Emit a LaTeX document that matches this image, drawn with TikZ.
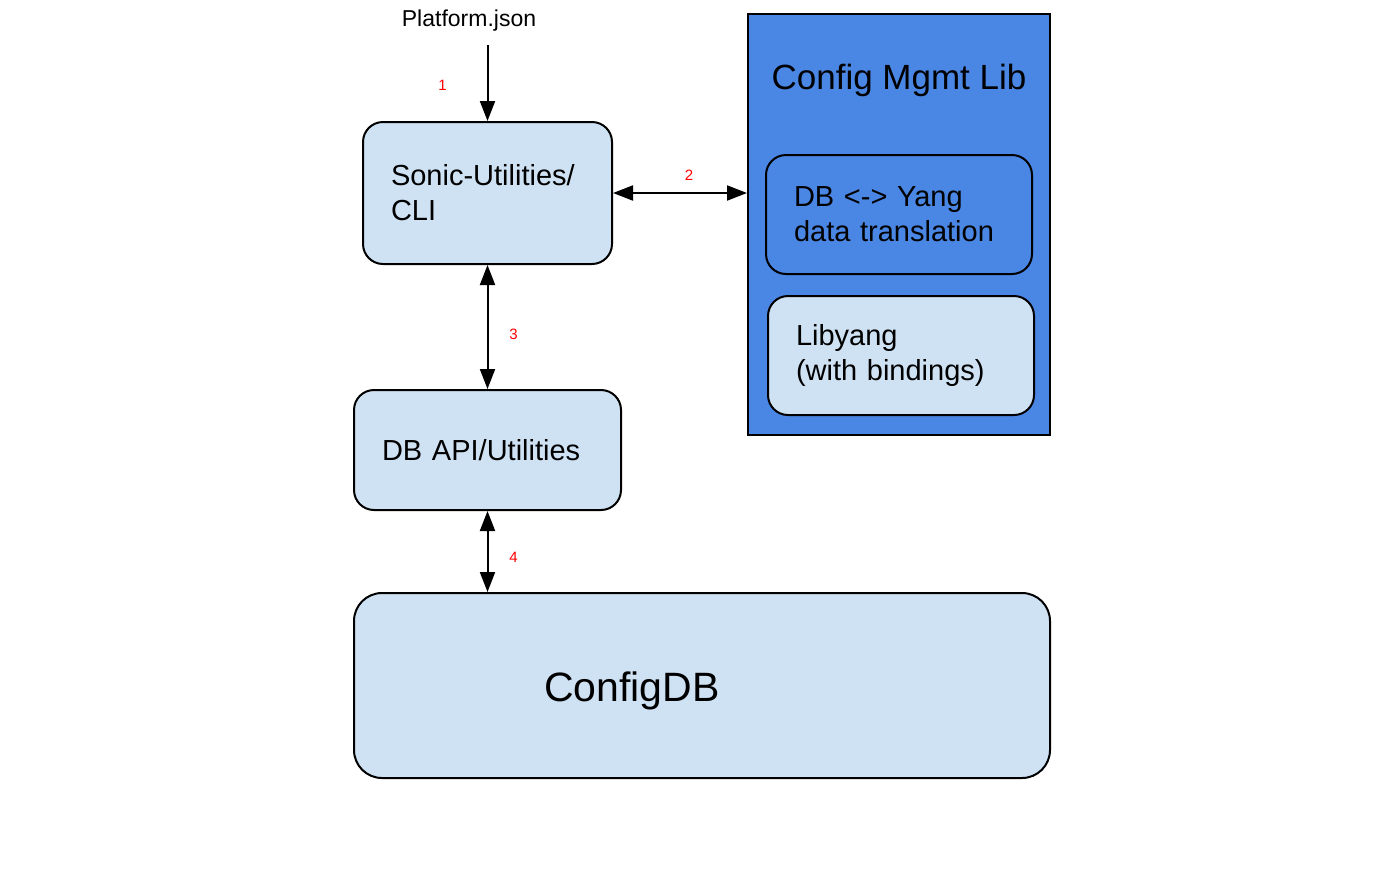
\documentclass[tikz,border=0pt]{standalone}
\usepackage{fontspec}
\setmainfont{Liberation Sans}
\usepackage{xcolor}
\usepackage{tikz}
\usetikzlibrary{
    arrows.meta,
    positioning
}

\definecolor{lightblue}{HTML}{CFE2F3}
\definecolor{libblue}{HTML}{4A86E3}

\begin{document}
\begin{tikzpicture}[
    x=0.5pt, y=-0.5pt,
    box/.style={
        rectangle,
        rounded corners=10pt,
        draw=black,
        fill=lightblue,
        line width=1pt,
        align=left,
        inner xsep=14pt,
        font=\fontsize{14.5}{17.5}\selectfont
    },
    libbox/.style={
        rectangle,
        draw=black,
        fill=libblue,
        line width=1pt
    },
    title/.style={
        font=\fontsize{17.5}{21}\selectfont
    },
    num/.style={
        font=\fontsize{7.5}{9}\selectfont,
        text=red
    },
    arrow/.style={-{Triangle[length=10pt,width=7.5pt]}, line width=1pt},
    dblarrow/.style={{Triangle[length=10pt,width=7.5pt]}-{Triangle[length=10pt,width=7.5pt]}, line width=1pt}
]
\useasboundingbox (0,0) rectangle (1386,874);

% ===== LEFT COLUMN =====
\node[font=\fontsize{11.5}{14}\selectfont] (platform) at (469,21) {Platform.json};
\coordinate (pin) at (487.5,45);
\node[box, text width=96.5pt, minimum height=71pt] (sonic) at (487.5,193) {Sonic-Utilities/\\CLI};
\node[box, text width=105.5pt, minimum height=60pt, below=62pt of sonic] (dbapi) {DB API/Utilities};
\node[box, rounded corners=14pt, inner xsep=95pt, text width=158pt, minimum height=92.5pt,
    text height=20pt, text depth=4.5pt,
    font=\fontsize{20.5}{24}\selectfont] (configdb) at (702,685.5) {ConfigDB};

% ===== CONFIG MGMT LIB =====
\node[libbox, minimum width=151pt, minimum height=210.5pt] (cmlib) at (899,224.5) {};
\node[title] (cmtitle) at (899,80) {Config Mgmt Lib};
\node[box, fill=libblue, text width=105pt, minimum height=59.5pt] (xlate) at (899,214.5) {DB <-> Yang\\data translation};
\node[box, text width=105pt, minimum height=59.5pt, below=10pt of xlate, xshift=1pt] (libyang) {Libyang\\(with bindings)};

% ===== CONNECTORS =====
\draw[arrow] (pin) -- node[num, xshift=-22.5pt, yshift=-1pt]{1} (sonic.north);
\draw[dblarrow] (sonic.east) -- node[num, xshift=4.5pt, yshift=9pt]{2} (sonic.east -| cmlib.west);
\draw[dblarrow] (sonic.south) -- node[num, xshift=13pt, yshift=-3.5pt]{3} (dbapi.north);
\draw[dblarrow] (dbapi.south) -- node[num, xshift=13pt, yshift=-3pt]{4} (dbapi.south |- configdb.north);

\end{tikzpicture}
\end{document}
